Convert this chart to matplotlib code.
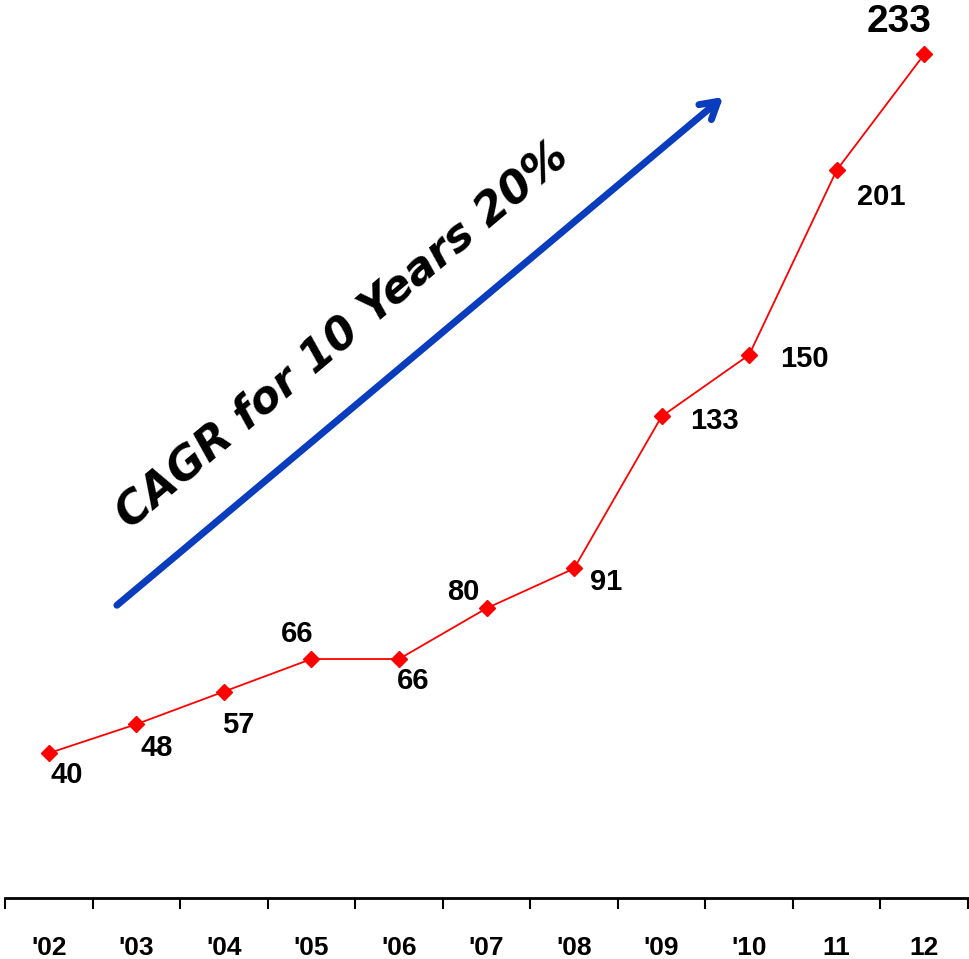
import matplotlib.pyplot as plt

years = ["'02", "'03", "'04", "'05", "'06", "'07", "'08", "'09", "'10", "11", "12"]
values = [40, 48, 57, 66, 66, 80, 91, 133, 150, 201, 233]
# label offsets in points (dx, dy) relative to each marker
offsets = [(13, -16), (15, -17), (10, -24), (-10, 18), (10, -16), (-17, 12),
           (23, -10), (38, -3), (40, -3), (32, -19), (-18, 23)]
label_sizes = [21] * 10 + [28]

fig = plt.figure(figsize=(9.7, 9.59), dpi=100)
ax = fig.add_axes([0.00515, 0.0636, 0.9928, 0.9364])

x = list(range(len(years)))
ax.plot(x, values, color='#ff0000', lw=1.3, marker='D', ms=8,
        markerfacecolor='#ff0000', markeredgecolor='#ff0000')

for xi, v, (dx, dy), fs in zip(x, values, offsets, label_sizes):
    ax.annotate(str(v), (xi, v), xytext=(dx, dy), textcoords='offset points',
                ha='center', va='center', fontsize=fs, fontweight='bold',
                family='Liberation Sans')

ax.set_xlim(-0.5, 10.5)
ax.set_ylim(0, 248)

for s in ['left', 'right', 'top']:
    ax.spines[s].set_visible(False)
ax.spines['bottom'].set_linewidth(2)
ax.set_yticks([])
ax.set_xticks([i - 0.5 for i in range(12)])
ax.set_xticks(x, minor=True)
ax.set_xticklabels([])
ax.set_xticklabels(years, minor=True, fontsize=19, fontweight='bold',
                   family='Liberation Sans')
ax.tick_params(axis='x', which='major', length=8, width=1.5, direction='out')
ax.tick_params(axis='x', which='minor', length=0, pad=27)

# growth arrow
ax.annotate('', xy=(0.748, 0.894), xytext=(0.114, 0.324), xycoords='axes fraction',
            arrowprops=dict(arrowstyle='->,head_length=1.2,head_width=0.7',
                        color='#0a3cbe', lw=5, capstyle='round'))
ax.text(0.35, 0.627, 'CAGR for 10 Years 20%', transform=ax.transAxes,
        rotation=40, ha='center', va='center', fontsize=32,
        fontweight='bold', fontstyle='italic', family='DejaVu Sans')

plt.savefig('out.png', dpi=100)
